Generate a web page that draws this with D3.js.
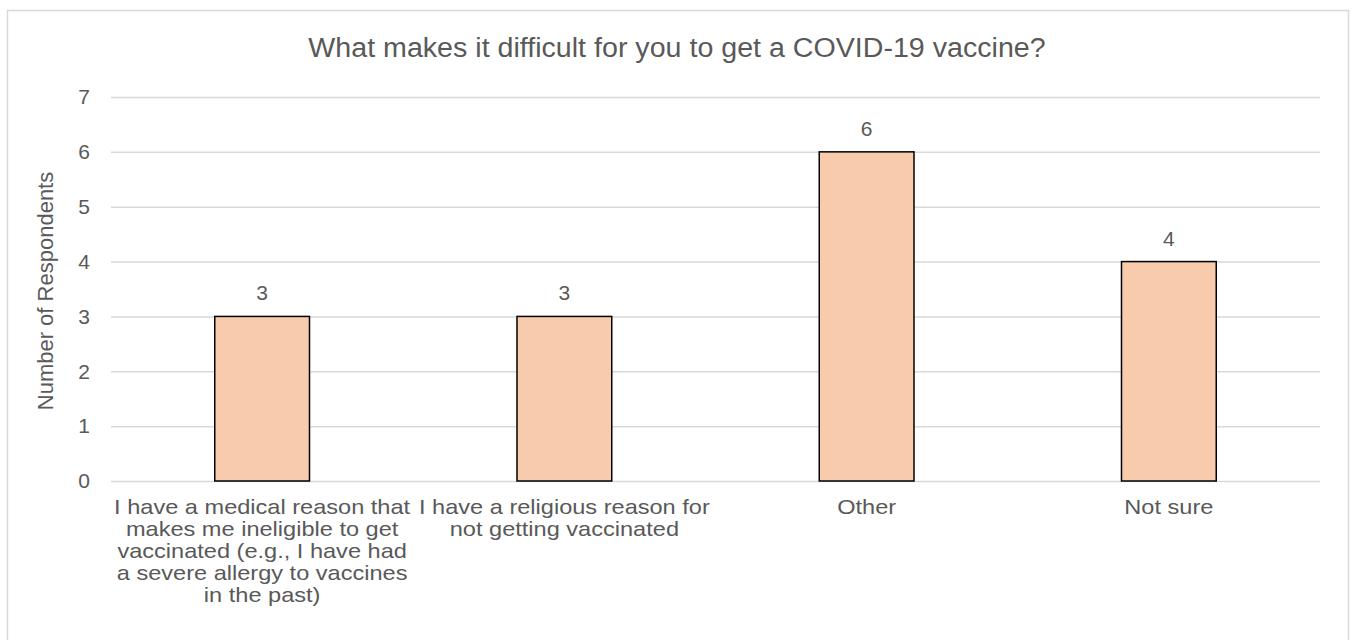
<!DOCTYPE html>
<html>
<head>
<meta charset="utf-8">
<script src="https://cdn.jsdelivr.net/npm/d3@7"></script>
<style>
  html, body { margin: 0; padding: 0; background: #fff; }
  svg { display: block; }
  text { font-family: "Liberation Sans", Arial, sans-serif; fill: #595959; }
</style>
</head>
<body>
<svg id="chart" width="1353" height="640"></svg>
<script>
const titleText = "What makes it difficult for you to get a COVID-19 vaccine?";
const yAxisTitle = "Number of Respondents";
const categories = [
  "I have a medical reason that makes me ineligible to get vaccinated (e.g., I have had a severe allergy to vaccines in the past)",
  "I have a religious reason for not getting vaccinated",
  "Other",
  "Not sure"
];
const categoryLines = [
  ["I have a medical reason that", "makes me ineligible to get", "vaccinated (e.g., I have had", "a severe allergy to vaccines", "in the past)"],
  ["I have a religious reason for", "not getting vaccinated"],
  ["Other"],
  ["Not sure"]
];
const values = [3, 3, 6, 4];
const yTicks = [0, 1, 2, 3, 4, 5, 6, 7];

const svg = d3.select("#chart");
const plot = { left: 111, right: 1320, top: 97, bottom: 481 };

// outer border
svg.append("rect")
  .attr("x", 7.5).attr("y", 10.5)
  .attr("width", 1341).attr("height", 640)
  .attr("fill", "#fff").attr("stroke", "#d9d9d9").attr("stroke-width", 1.5);

const xb = d3.scaleBand().domain(categories).range([plot.left, plot.right]);
const y = d3.scaleLinear().domain([0, 7]).range([plot.bottom, plot.top]);

// gridlines + tick labels via axis
const yAxis = d3.axisLeft(y).tickValues(yTicks).tickSize(-(plot.right - plot.left)).tickPadding(21).tickFormat(d3.format("d"));
const gy = svg.append("g").attr("transform", `translate(${plot.left},0)`).call(yAxis);
gy.select(".domain").remove();
gy.selectAll(".tick line").attr("stroke", "#d9d9d9").attr("stroke-width", 1.5);
gy.selectAll(".tick text").attr("font-size", 21).attr("fill", "#595959").attr("font-family", "Liberation Sans, Arial, sans-serif");

// bars
const barW = xb.bandwidth() / 3.19;
svg.append("g").selectAll("rect").data(values).join("rect")
  .attr("x", (d, i) => xb(categories[i]) + xb.bandwidth() / 2 - barW / 2)
  .attr("y", d => y(d))
  .attr("width", barW)
  .attr("height", d => y(0) - y(d))
  .attr("fill", "#f8cbad")
  .attr("stroke", "#000").attr("stroke-width", 1.5);

// data labels
svg.append("g").selectAll("text").data(values).join("text")
  .attr("x", (d, i) => xb(categories[i]) + xb.bandwidth() / 2)
  .attr("y", d => y(d) - 16)
  .attr("text-anchor", "middle")
  .attr("font-size", 21)
  .text(d => d);

// category labels (slightly wide rendering, as in the reference)
const gx = svg.append("g");
const sx = 1.15;
categories.forEach((c, i) => {
  const cx = xb(c) + xb.bandwidth() / 2;
  const t = gx.append("text")
    .attr("transform", `translate(${cx},0) scale(${sx},1)`)
    .attr("x", 0)
    .attr("y", 514)
    .attr("text-anchor", "middle")
    .attr("font-size", 20.5);
  categoryLines[i].forEach((line, j) => {
    t.append("tspan").attr("x", 0).attr("dy", j === 0 ? 0 : 22).text(line);
  });
});

// title
svg.append("text")
  .attr("transform", "translate(677,0) scale(1.06,1)")
  .attr("x", 0).attr("y", 57)
  .attr("text-anchor", "middle")
  .attr("font-size", 27)
  .text(titleText);

// y axis title
svg.append("text")
  .attr("transform", `translate(53, ${(plot.top + plot.bottom) / 2 + 2}) rotate(-90)`)
  .attr("text-anchor", "middle")
  .attr("font-size", 22)
  .text(yAxisTitle);
</script>
</body>
</html>
